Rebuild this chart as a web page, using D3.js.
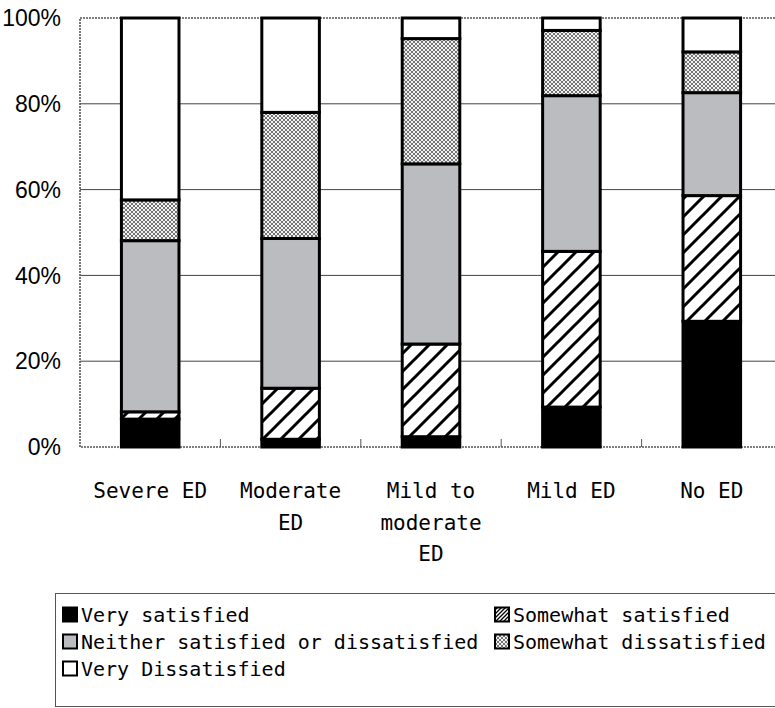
<!DOCTYPE html>
<html>
<head>
<meta charset="utf-8">
<script src="https://cdn.jsdelivr.net/npm/d3@7"></script>
<style>
body { margin: 0; background: #fff; }
</style>
</head>
<body>
<div id="chart"></div>
<script>
// categories and series (percent of respondents)
var categories = ["Severe ED", "Moderate ED", "Mild to moderate ED", "Mild ED", "No ED"];
var categoryLines = [["Severe ED"], ["Moderate", "ED"], ["Mild to", "moderate", "ED"], ["Mild ED"], ["No ED"]];
var seriesNames = ["Very satisfied", "Somewhat satisfied", "Neither satisfied or dissatisfied", "Somewhat dissatisfied", "Very Dissatisfied"];
var verySatisfied        = [6.5, 1.8, 2.4, 9.3, 29.3];
var somewhatSatisfied    = [1.7, 11.9, 21.6, 36.3, 29.3];
var neither              = [39.9, 34.9, 42.0, 36.3, 24.0];
var somewhatDissatisfied = [9.5, 29.4, 29.2, 15.2, 9.5];
var veryDissatisfied     = [42.4, 22.0, 4.8, 2.9, 7.9];
var yTicks = [0, 20, 40, 60, 80, 100];

var seriesValues = [verySatisfied, somewhatSatisfied, neither, somewhatDissatisfied, veryDissatisfied];
var data = categories.map(function(c, i) {
	var row = { cat: c };
	seriesNames.forEach(function(s, j) { row[s] = seriesValues[j][i]; });
	return row;
});

var W = 775, H = 708;
var plotLeft = 80, plotTop = 18, plotBottom = 447, plotRight = 782;

var svg = d3.select("#chart").append("svg").attr("width", W).attr("height", H);
var defs = svg.append("defs");

// diagonal hatch for bars
var hp = defs.append("pattern").attr("id", "hatch").attr("patternUnits", "userSpaceOnUse")
	.attr("width", 18).attr("height", 18);
hp.append("rect").attr("width", 18).attr("height", 18).attr("fill", "#fff");
hp.append("path").attr("d", "M-4,22 L22,-4 M-9,9 L9,-9 M9,27 L27,9")
	.attr("stroke", "#000").attr("stroke-width", 3);
// finer hatch for legend swatch
var hp2 = defs.append("pattern").attr("id", "hatchSmall").attr("patternUnits", "userSpaceOnUse")
	.attr("width", 4).attr("height", 4);
hp2.append("rect").attr("width", 4).attr("height", 4).attr("fill", "#fff");
hp2.append("path").attr("d", "M-1,5 L5,-1 M-2,2 L2,-2 M2,6 L6,2")
	.attr("stroke", "#000").attr("stroke-width", 1.3);
// cross hatch
var cp = defs.append("pattern").attr("id", "cross").attr("patternUnits", "userSpaceOnUse")
	.attr("width", 4).attr("height", 4);
cp.append("rect").attr("width", 4).attr("height", 4).attr("fill", "#f2f2f2");
cp.append("path").attr("d", "M0,0 L4,4 M4,0 L0,4")
	.attr("stroke", "#666").attr("stroke-width", 0.9);

var fills = ["#000", "url(#hatch)", "#bbbcbf", "url(#cross)", "#fff"];
var legendFills = ["#000", "url(#hatchSmall)", "#bbbcbf", "url(#cross)", "#fff"];

var x = d3.scaleBand().domain(categories).range([plotLeft, plotRight]).paddingInner(0.59).paddingOuter(0.295);
var xStep = d3.scaleBand().domain(categories).range([plotLeft, plotRight]);
var y = d3.scaleLinear().domain([0, 100]).range([plotBottom, plotTop]);

// gridlines
svg.append("g").selectAll("line").data(yTicks.filter(function(t) { return t > 0 && t < 100; }))
	.enter().append("line")
	.attr("x1", plotLeft).attr("x2", plotRight)
	.attr("y1", function(d) { return y(d); }).attr("y2", function(d) { return y(d); })
	.attr("stroke", "#444").attr("stroke-width", 1);

// plot frame
svg.append("rect").attr("x", plotLeft).attr("y", plotTop).attr("width", plotRight - plotLeft).attr("height", plotBottom - plotTop)
	.attr("fill", "none").attr("stroke", "#555").attr("stroke-width", 1.6).attr("stroke-dasharray", "2,1");

// category boundary ticks
svg.append("g").selectAll("line").data(categories.slice(1))
	.enter().append("line")
	.attr("x1", function(d) { return xStep(d); }).attr("x2", function(d) { return xStep(d); })
	.attr("y1", plotBottom).attr("y2", plotBottom - 8)
	.attr("stroke", "#555").attr("stroke-width", 1);

// stacked bars
var stack = d3.stack().keys(seriesNames);
var layers = stack(data);
svg.append("g").selectAll("g").data(layers).enter().append("g")
	.attr("fill", function(d, i) { return fills[i]; })
	.selectAll("rect").data(function(d) { return d; }).enter().append("rect")
	.attr("x", function(d) { return x(d.data.cat); })
	.attr("width", x.bandwidth())
	.attr("y", function(d) { return y(d[1]); })
	.attr("height", function(d) { return y(d[0]) - y(d[1]); })
	.attr("stroke", "#000").attr("stroke-width", 3);

// y axis labels
svg.append("g").selectAll("text").data(yTicks).enter().append("text")
	.attr("x", 61).attr("y", function(d) { return y(d); })
	.attr("dy", "0.36em")
	.style("text-anchor", "end")
	.style("font-family", "Liberation Sans, Arial, sans-serif")
	.style("font-size", "23px")
	.text(function(d) { return d + "%"; });

// x axis labels (wrapped)
var xl = svg.append("g").selectAll("text").data(categories).enter().append("text")
	.style("text-anchor", "middle")
	.style("font-family", "DejaVu Sans Mono, monospace")
	.style("font-size", "21px");
xl.each(function(d, i) {
	var t = d3.select(this);
	categoryLines[i].forEach(function(line, k) {
		t.append("tspan")
			.attr("x", x(d) + x.bandwidth() / 2)
			.attr("y", 498 + k * 31.5)
			.text(line);
	});
});

// legend
var lg = svg.append("g");
lg.append("rect").attr("x", 55.5).attr("y", 593.5).attr("width", 740).attr("height", 113)
	.attr("fill", "#fff").attr("stroke", "#555").attr("stroke-width", 1);
var legendPos = [[62, 607], [494, 607], [62, 634], [494, 634], [62, 661]];
var items = lg.selectAll("g.item").data(seriesNames).enter().append("g")
	.attr("transform", function(d, i) { return "translate(" + legendPos[i][0] + "," + legendPos[i][1] + ")"; });
items.append("rect").attr("x", 1).attr("y", 0.5).attr("width", 14).attr("height", 14)
	.attr("fill", function(d, i) { return legendFills[i]; })
	.attr("stroke", "#000").attr("stroke-width", 2);
items.append("text").attr("x", 19).attr("y", 14.5)
	.style("font-family", "DejaVu Sans Mono, monospace")
	.style("font-size", "20px")
	.text(function(d) { return d; });
</script>
</body>
</html>
